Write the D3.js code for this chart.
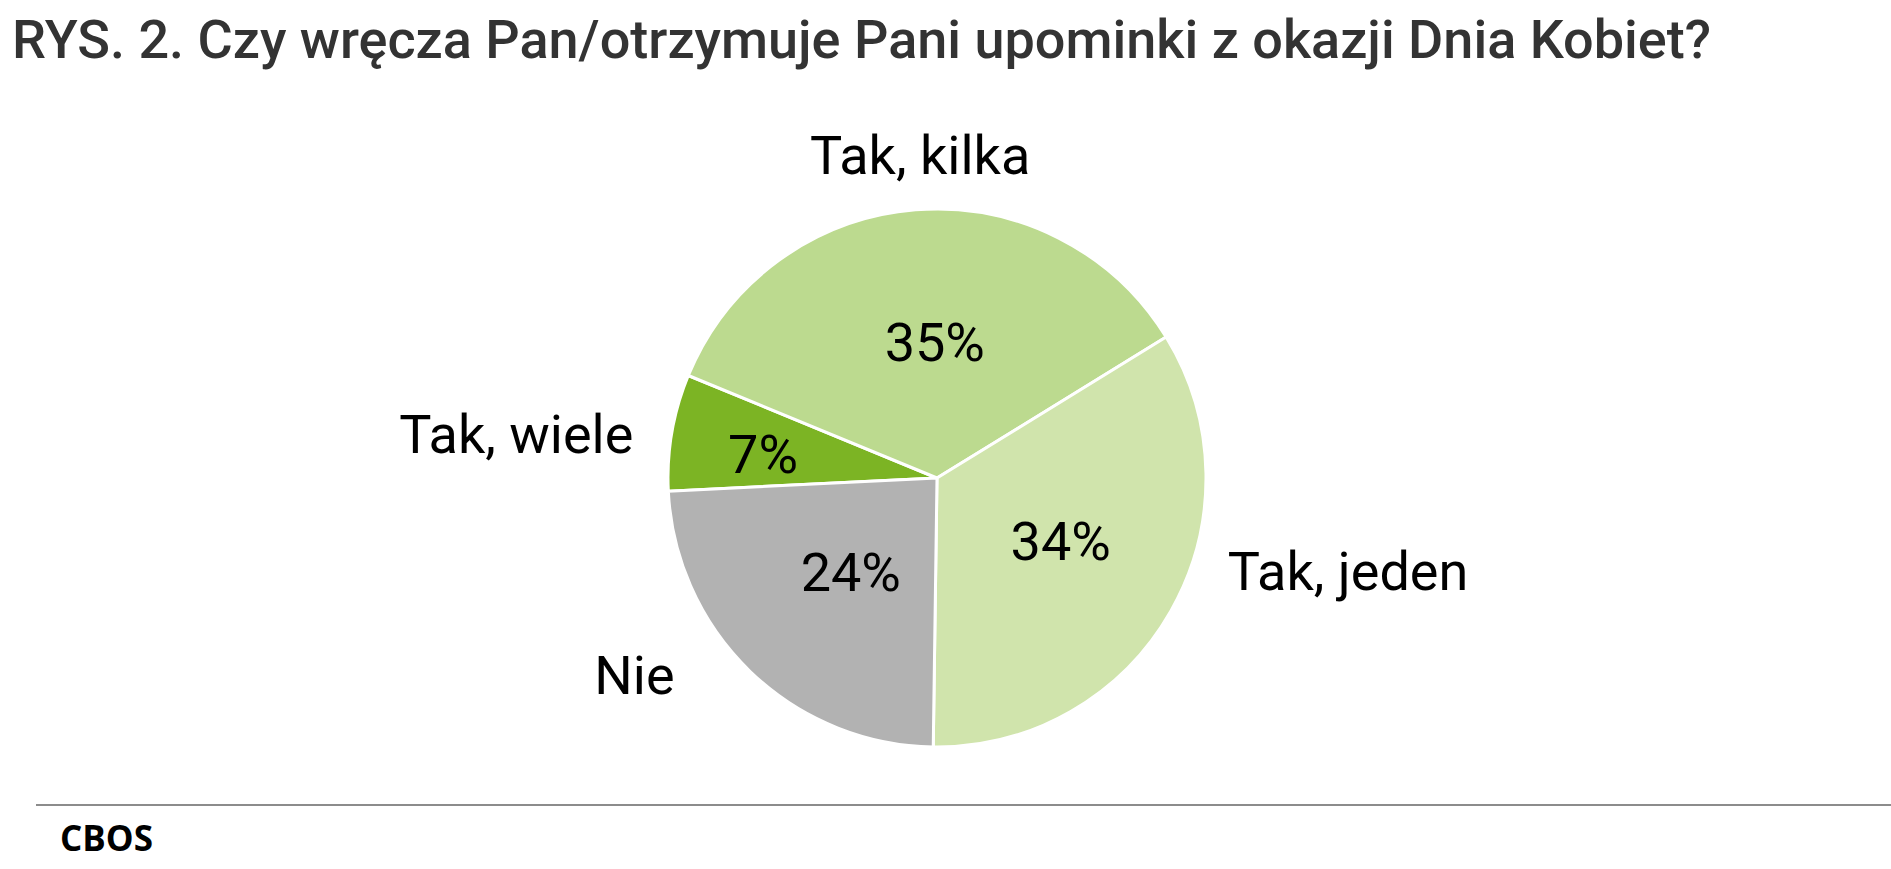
<!DOCTYPE html>
<html>
<head>
<meta charset="utf-8">
<script src="https://cdn.jsdelivr.net/npm/d3@7"></script>
<style>
  html, body { margin: 0; padding: 0; background: #fff; }
  svg { display: block; }
</style>
</head>
<body>
<svg id="chart" width="1891" height="869"></svg>
<script>
// ---- data ----
const title = "RYS. 2. Czy wręcza Pan/otrzymuje Pani upominki z okazji Dnia Kobiet?";
const categories = ["Tak, wiele", "Tak, kilka", "Tak, jeden", "Nie"];
const values = [7, 35, 34, 24];
const valueLabels = ["7%", "35%", "34%", "24%"];
const source = "CBOS";

// ---- styles / layout ----
const colors = ["#7cb424", "#bcda8f", "#d0e4ac", "#b2b2b2"];
const W = 1891, H = 869;
const cx = 937, cy = 478, R = 269;
const startDeg = 267.2;
// label nudges (layout only)
const pctNudge = [[-36, 0], [9, 3], [2, -6], [11, -7]];
const catAnchor = ["end", "middle", "start", "end"];
const catRadius = [300, 322, 300, 300];
const catNudge = [[-8, 7], [9, -2], [30, -55], [-54, -19]];

const svg = d3.select("#chart");

svg.append("text")
  .attr("x", 12).attr("y", 58)
  .attr("font-family", "Roboto")
  .attr("font-weight", 500)
  .attr("font-size", 54)
  .attr("fill", "#333333")
  .text(title);

const pie = d3.pie().sort(null).value(d => d)
  .startAngle(startDeg * Math.PI / 180)
  .endAngle((startDeg + 360) * Math.PI / 180);
const arcs = pie(values);
const arc = d3.arc().innerRadius(0).outerRadius(R);
const labelArc = d3.arc().innerRadius(140).outerRadius(140);

const g = svg.append("g").attr("transform", `translate(${cx},${cy})`);
g.selectAll("path.slice").data(arcs).join("path")
  .attr("class", "slice")
  .attr("d", arc)
  .attr("fill", (d, i) => colors[i])
  .attr("stroke", "#ffffff")
  .attr("stroke-width", 3)
  .attr("stroke-linejoin", "round");

g.selectAll("text.pct").data(arcs).join("text")
  .attr("class", "pct")
  .attr("x", (d, i) => labelArc.centroid(d)[0] + pctNudge[i][0])
  .attr("y", (d, i) => labelArc.centroid(d)[1] + pctNudge[i][1])
  .attr("dy", "0.355em")
  .attr("text-anchor", "middle")
  .attr("font-family", "Roboto")
  .attr("font-size", 54)
  .attr("fill", "#000")
  .text((d, i) => valueLabels[i]);

g.selectAll("text.cat").data(arcs).join("text")
  .attr("class", "cat")
  .attr("x", (d, i) => d3.arc().innerRadius(catRadius[i]).outerRadius(catRadius[i]).centroid(d)[0] + catNudge[i][0])
  .attr("y", (d, i) => d3.arc().innerRadius(catRadius[i]).outerRadius(catRadius[i]).centroid(d)[1] + catNudge[i][1])
  .attr("dy", "0.355em")
  .attr("text-anchor", (d, i) => catAnchor[i])
  .attr("font-family", "Roboto")
  .attr("font-size", 54)
  .attr("fill", "#000")
  .text((d, i) => categories[i]);

svg.append("line")
  .attr("x1", 36).attr("x2", W)
  .attr("y1", 805).attr("y2", 805)
  .attr("stroke", "#8c8c8c").attr("stroke-width", 2);

svg.append("text")
  .attr("x", 60).attr("y", 851)
  .attr("font-family", "Open Sans")
  .attr("font-weight", 700)
  .attr("font-size", 35)
  .attr("fill", "#000")
  .text(source);
</script>
</body>
</html>
